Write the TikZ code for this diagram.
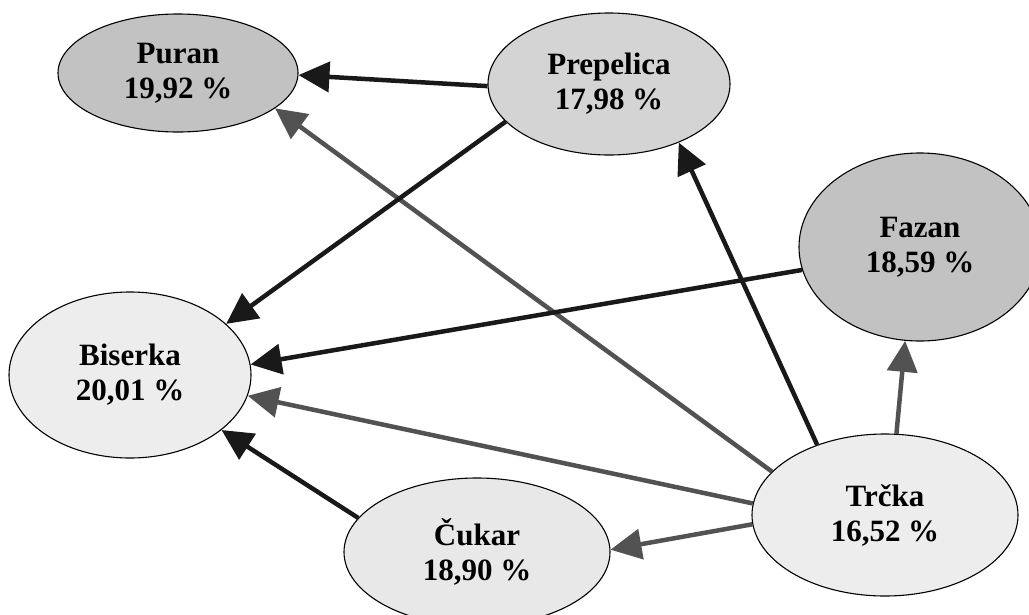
\documentclass[tikz,border=0pt]{standalone}
\usepackage{fontspec}
\setmainfont{Liberation Serif}
\usepackage{tikz}
\usetikzlibrary{shapes.geometric,arrows.meta}

\definecolor{tamna}{gray}{0.76}
\definecolor{srednja}{gray}{0.83}
\definecolor{svijetla}{gray}{0.93}
\definecolor{cukarboja}{gray}{0.91}
\definecolor{crna}{gray}{0.10}
\definecolor{siva}{gray}{0.32}

\begin{document}
\begin{tikzpicture}[x=1pt,y=-1pt,
  ptica/.style={ellipse,draw=black,line width=1.1pt,inner sep=0pt,align=center,
    font=\fontsize{31}{35}\selectfont\bfseries},
  veza/.style={line width=4.5pt,-{Triangle[length=31pt,width=30pt]}},
  crnaveza/.style={veza,draw=crna,fill=crna},
  sivaveza/.style={veza,draw=siva,fill=siva}]
\useasboundingbox (0,0) rectangle (1029,614);
%ptice
\node[ptica,fill=tamna,minimum width=240pt,minimum height=118pt] (puran) at (178,73) {Puran\\19,92 \%};
\node[ptica,fill=srednja,minimum width=242pt,minimum height=142pt] (prepelica) at (609,84) {Prepelica\\17,98 \%};
\node[ptica,fill=tamna,minimum width=242pt,minimum height=188pt] (fazan) at (920,247) {Fazan\\18,59 \%};
\node[ptica,fill=svijetla,minimum width=242pt,minimum height=166pt] (biserka) at (130,375) {Biserka\\20,01 \%};
\node[ptica,fill=cukarboja,minimum width=266pt,minimum height=148pt] (cukar) at (477,552) {Čukar\\18,90 \%};
\node[ptica,fill=svijetla,minimum width=266pt,minimum height=162pt] (trcka) at (885,515) {Trčka\\16,52 \%};
%strelice
\draw[crnaveza] (prepelica.181) -- (puran.359);
\draw[sivaveza] (trcka.159) -- (puran.340);
\draw[crnaveza] (prepelica.200) -- (biserka.28);
\draw[crnaveza] (fazan.191) -- (biserka.5);
\draw[sivaveza] (trcka.175) -- (biserka.350);
\draw[crnaveza] (cukar.164) -- (biserka.329);
\draw[crnaveza] (trcka.134) -- (prepelica.320);
\draw[sivaveza] (trcka.82) -- (fazan.261);
\draw[sivaveza] (trcka.184) -- (cukar.1);
\end{tikzpicture}
\end{document}
